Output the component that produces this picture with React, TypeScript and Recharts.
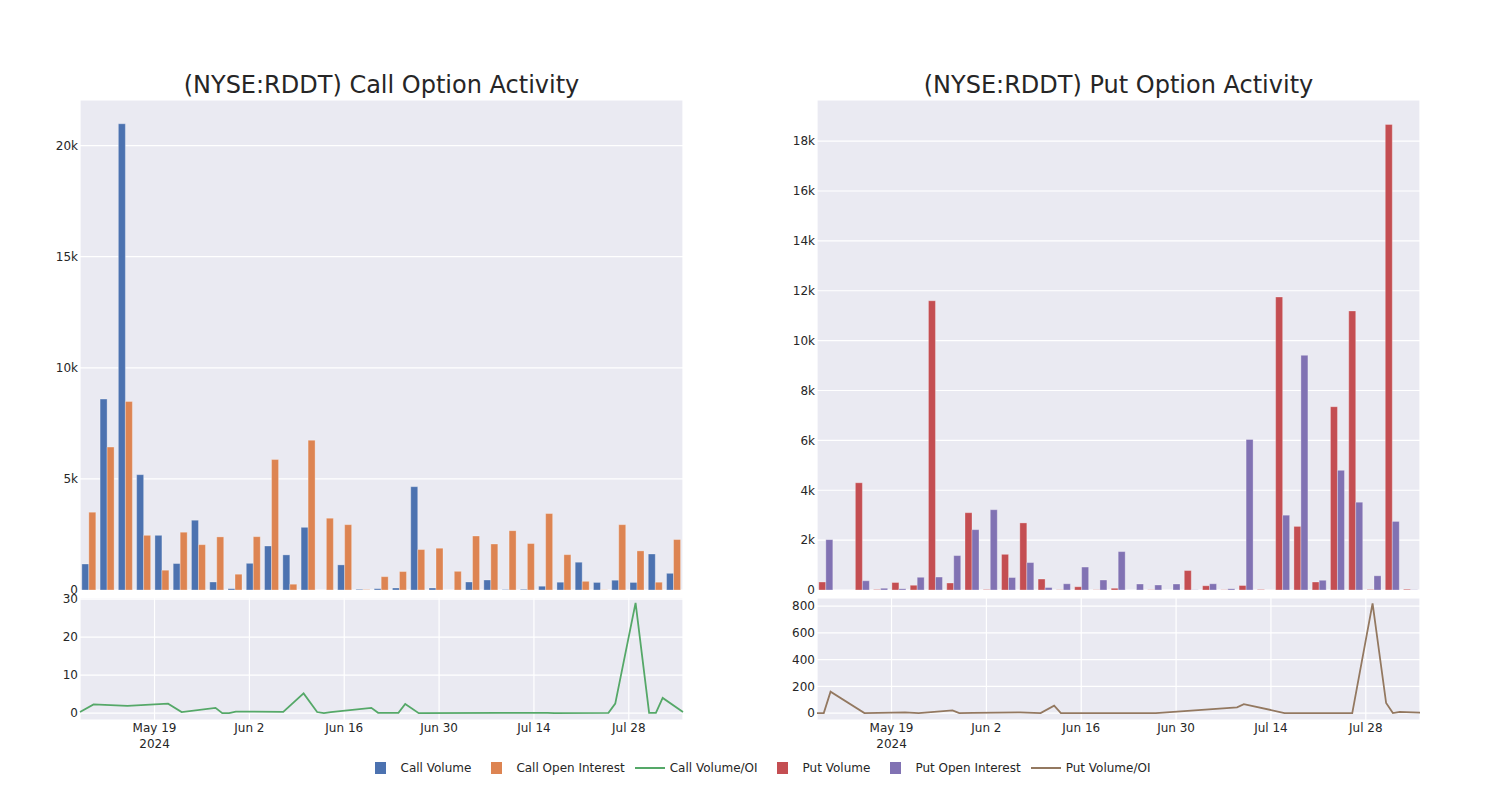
import React from 'react';
import { BarChart, Bar, LineChart, Line, XAxis, YAxis, CartesianGrid } from 'recharts';

// 33 trading sessions shown as plain categories (the bar panels carry no x labels)
const barCategories = [
  '1', '2', '3', '4', '5', '6', '7', '8', '9', '10', '11',
  '12', '13', '14', '15', '16', '17', '18', '19', '20', '21', '22',
  '23', '24', '25', '26', '27', '28', '29', '30', '31', '32', '33',
];

const callVolume = [
  1170, 8590, 20980, 5190, 2460, 1190, 3140, 360, 60, 1200, 1980,
  1580, 2820, 0, 1130, 30, 60, 90, 4650, 90, 0, 360,
  450, 20, 30, 170, 350, 1250, 340, 440, 340, 1620, 750,
];
const callOpenInterest = [
  3500, 6430, 8480, 2460, 890, 2600, 2040, 2390, 710, 2400, 5870,
  260, 6740, 3230, 2940, 20, 600, 830, 1820, 1880, 840, 2430,
  2070, 2670, 2090, 3440, 1590, 390, 10, 2940, 1760, 350, 2270,
];
const putVolume = [
  320, 0, 4300, 20, 300, 190, 11600, 280, 3100, 20, 1430,
  2690, 440, 10, 130, 10, 70, 0, 10, 0, 780, 170,
  10, 180, 20, 11750, 2550, 320, 7350, 11190, 20, 18670, 30,
];
const putOpenInterest = [
  2020, 0, 370, 70, 50, 510, 520, 1380, 2420, 3220, 500,
  1100, 100, 250, 920, 400, 1540, 240, 200, 240, 10, 250,
  50, 6040, 0, 3000, 9410, 390, 4800, 3520, 570, 2750, 10,
];

const callRatioDates = [
  '2024-05-08', '2024-05-10', '2024-05-15', '2024-05-21', '2024-05-23', '2024-05-28',
  '2024-05-29', '2024-05-30', '2024-05-31', '2024-06-07', '2024-06-10', '2024-06-12',
  '2024-06-13', '2024-06-14', '2024-06-20', '2024-06-21', '2024-06-24', '2024-06-25',
  '2024-06-27', '2024-07-09', '2024-07-10', '2024-07-16', '2024-07-17', '2024-07-25',
  '2024-07-26', '2024-07-29', '2024-07-31', '2024-08-01', '2024-08-02', '2024-08-05',
];
const callRatio = [
  0.3, 2.3, 1.9, 2.5, 0.3, 1.4,
  0.0, 0.0, 0.4, 0.35, 5.2, 0.3,
  0.0, 0.3, 1.4, 0.1, 0.1, 2.4,
  0.0, 0.05, 0.05, 0.1, 0.0, 0.1,
  2.5, 29.0, 0.1, 0.1, 4.0, 0.3,
];

const putRatioDates = [
  '2024-05-08', '2024-05-09', '2024-05-10', '2024-05-15', '2024-05-21', '2024-05-23',
  '2024-05-28', '2024-05-29', '2024-05-31', '2024-06-07', '2024-06-10', '2024-06-12',
  '2024-06-13', '2024-06-14', '2024-06-20', '2024-06-27', '2024-07-09', '2024-07-10',
  '2024-07-16', '2024-07-26', '2024-07-29', '2024-07-31', '2024-08-01', '2024-08-02',
  '2024-08-05',
];
const putRatio = [
  0, 0, 160, 0, 5, 0,
  20, 0, 2, 5, 0, 55,
  0, 0, 0, 0, 42, 67,
  0, 0, 820, 75, 0, 8,
  3,
];

const dateTicks = ['2024-05-19', '2024-06-02', '2024-06-16', '2024-06-30', '2024-07-14', '2024-07-28'];
const dateTickLabels = ['May 19', 'Jun 2', 'Jun 16', 'Jun 30', 'Jul 14', 'Jul 28'];
const callVolumeTicks = [0, 5000, 10000, 15000, 20000];
const putVolumeTicks = [0, 2000, 4000, 6000, 8000, 10000, 12000, 14000, 16000, 18000];
const callRatioTicks = [0, 10, 20, 30];
const putRatioTicks = [0, 200, 400, 600, 800];

const FONT = '"DejaVu Sans", sans-serif';
const TEXT = '#262626';
const PANEL = '#EAEAF2';

const toTime = (s: string) => {
  const [y, m, d] = s.split('-').map(Number);
  return Date.UTC(y, m - 1, d);
};

const callBars = barCategories.map((cat, i) => ({ cat, volume: callVolume[i], oi: callOpenInterest[i] }));
const putBars = barCategories.map((cat, i) => ({ cat, volume: putVolume[i], oi: putOpenInterest[i] }));
const callLine = callRatioDates.map((d, i) => ({ t: toTime(d), ratio: callRatio[i] }));
const putLine = putRatioDates.map((d, i) => ({ t: toTime(d), ratio: putRatio[i] }));
const tickTimes = dateTicks.map(toTime);
const gridCats = barCategories.filter((_, i) => i % 5 === 0);

const kFormat = (v: number) => (v === 0 ? '0' : `${v / 1000}k`);
const axisTick = { fill: TEXT, fontSize: 12, fontFamily: FONT };

const DateTick = ({ x, y, payload }: any) => {
  const idx = tickTimes.indexOf(payload.value);
  return (
    <text x={x} y={y} textAnchor="middle" fill={TEXT} fontSize={12} fontFamily={FONT}>
      <tspan x={x} dy="0.71em">{dateTickLabels[idx]}</tspan>
      {idx === 0 && <tspan x={x} dy="1.35em">2024</tspan>}
    </text>
  );
};

interface PanelProps {
  left: number;
  title: string;
  bars: { cat: string; volume: number; oi: number }[];
  line: { t: number; ratio: number }[];
  barColors: [string, string];
  lineColor: string;
  barMax: number;
  barTicks: number[];
  ratioDomain: [number, number];
  ratioTicks: number[];
}

const Panel = ({ left, title, bars, line, barColors, lineColor, barMax, barTicks, ratioDomain, ratioTicks }: PanelProps) => (
  <>
    <div
      style={{
        position: 'absolute', left: left + 80, top: 71, width: 603, textAlign: 'center',
        fontFamily: FONT, fontSize: 24, lineHeight: '28px', color: TEXT,
      }}
    >
      {title}
    </div>
    <div style={{ position: 'absolute', left, top: 90 }}>
      <BarChart
        width={700}
        height={510}
        data={bars}
        margin={{ top: 10, right: 17, bottom: 10, left: 20 }}
        barCategoryGap="10%"
        barGap={0}
      >
        <CartesianGrid fill={PANEL} stroke="#ffffff" strokeWidth={1.2} />
        <XAxis dataKey="cat" ticks={gridCats} tick={false} axisLine={false} tickLine={false} height={0} interval={0} />
        <YAxis
          width={60}
          domain={[0, barMax]}
          ticks={barTicks}
          interval={0}
          tickFormatter={kFormat}
          axisLine={false}
          tickLine={false}
          tickSize={0}
          tickMargin={2}
          tick={axisTick}
        />
        <Bar dataKey="volume" fill={barColors[0]} stroke="#ffffff" strokeOpacity={0.5} strokeWidth={0.6} isAnimationActive={false} />
        <Bar dataKey="oi" fill={barColors[1]} stroke="#ffffff" strokeOpacity={0.5} strokeWidth={0.6} isAnimationActive={false} />
      </BarChart>
    </div>
    <div style={{ position: 'absolute', left, top: 590 }}>
      <LineChart width={700} height={170} data={line} margin={{ top: 8, right: 17, bottom: 0, left: 20 }}>
        <CartesianGrid fill={PANEL} stroke="#ffffff" strokeWidth={1.2} />
        <XAxis
          dataKey="t"
          type="number"
          domain={['dataMin', 'dataMax']}
          ticks={tickTimes}
          interval={0}
          height={40}
          axisLine={false}
          tickLine={false}
          tickSize={0}
          tickMargin={3}
          tick={<DateTick />}
        />
        <YAxis
          width={60}
          domain={ratioDomain}
          ticks={ratioTicks}
          interval={0}
          allowDataOverflow
          axisLine={false}
          tickLine={false}
          tickSize={0}
          tickMargin={2}
          tick={axisTick}
        />
        <Line type="linear" dataKey="ratio" stroke={lineColor} strokeWidth={1.8} dot={false} isAnimationActive={false} />
      </LineChart>
    </div>
  </>
);

const legendItems = [
  { label: 'Call Volume', color: '#4C72B0', line: false },
  { label: 'Call Open Interest', color: '#DD8452', line: false },
  { label: 'Call Volume/OI', color: '#55A868', line: true },
  { label: 'Put Volume', color: '#C44E52', line: false },
  { label: 'Put Open Interest', color: '#8172B3', line: false },
  { label: 'Put Volume/OI', color: '#937860', line: true },
];

export default function App() {
  return (
    <div style={{ position: 'relative', width: 1500, height: 800, margin: -8, background: '#ffffff', overflow: 'hidden' }}>
      <Panel
        left={0}
        title="(NYSE:RDDT) Call Option Activity"
        bars={callBars}
        line={callLine}
        barColors={['#4C72B0', '#DD8452']}
        lineColor="#55A868"
        barMax={22050}
        barTicks={callVolumeTicks}
        ratioDomain={[-1.8, 30.3]}
        ratioTicks={callRatioTicks}
      />
      <Panel
        left={737}
        title="(NYSE:RDDT) Put Option Activity"
        bars={putBars}
        line={putLine}
        barColors={['#C44E52', '#8172B3']}
        lineColor="#937860"
        barMax={19650}
        barTicks={putVolumeTicks}
        ratioDomain={[-52, 860]}
        ratioTicks={putRatioTicks}
      />
      <div
        style={{
          position: 'absolute', left: 12, top: 759, width: 1500, display: 'flex', justifyContent: 'center',
          fontFamily: FONT, fontSize: 12, color: TEXT, lineHeight: '18px',
        }}
      >
        {legendItems.map((item) => (
          <div key={item.label} style={{ display: 'flex', alignItems: 'center', marginRight: 9 }}>
            <div style={{ width: 32, height: 18, display: 'flex', alignItems: 'center', justifyContent: 'center' }}>
              {item.line ? (
                <div style={{ width: 30, height: 2, background: item.color }} />
              ) : (
                <div style={{ width: 11, height: 12, background: item.color }} />
              )}
            </div>
            <span style={{ marginLeft: 4 }}>{item.label}</span>
          </div>
        ))}
      </div>
    </div>
  );
}
